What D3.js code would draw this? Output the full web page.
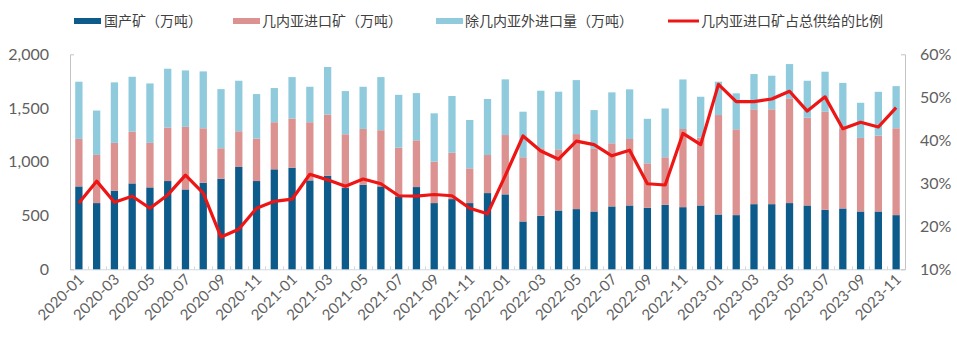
<!DOCTYPE html>
<html><head><meta charset="utf-8">
<script src="https://cdn.jsdelivr.net/npm/d3@7"></script>
<style>body{margin:0;background:#fff} svg{display:block}</style>
</head><body><svg id="c" width="957" height="347"></svg>
<script>
const months = ["2020-01","2020-02","2020-03","2020-04","2020-05","2020-06","2020-07","2020-08","2020-09","2020-10","2020-11","2020-12",
"2021-01","2021-02","2021-03","2021-04","2021-05","2021-06","2021-07","2021-08","2021-09","2021-10","2021-11","2021-12",
"2022-01","2022-02","2022-03","2022-04","2022-05","2022-06","2022-07","2022-08","2022-09","2022-10","2022-11","2022-12",
"2023-01","2023-02","2023-03","2023-04","2023-05","2023-06","2023-07","2023-08","2023-09","2023-10","2023-11"];
const domestic = [771,616,731,799,762,821,743,805,843,952,821,930,
945,827,871,756,787,771,678,765,616,653,616,709,
697,445,498,547,560,538,585,594,572,600,578,594,
510,504,606,606,616,594,554,566,538,538,504];
const guinea = [442,448,445,482,414,498,582,507,283,332,395,438,
458,541,569,500,519,523,454,435,385,431,323,354,
552,597,627,569,698,587,587,618,414,442,727,632,
925,798,882,882,974,816,912,740,684,705,808];
const otherImports = [532,413,563,510,553,547,525,529,550,470,414,318,
385,330,442,402,392,494,491,439,450,528,450,521,
518,424,536,536,502,356,474,462,414,454,461,379,
310,335,328,313,319,344,372,428,327,408,392];
const guineaShare = [25.4,30.5,25.6,27.0,24.2,27.3,31.9,27.7,17.5,19.3,24.2,25.8,
26.3,32.1,30.8,29.3,31.0,29.9,27.1,27.0,27.4,27.1,24.2,22.9,
31.8,41.0,37.5,35.6,39.8,39.0,36.4,37.7,29.9,29.6,41.6,39.0,
53.0,49.0,49.0,49.6,51.4,46.8,50.1,42.7,44.2,43.1,47.6];
const xTickLabels = ["2020-01","2020-03","2020-05","2020-07","2020-09","2020-11","2021-01","2021-03","2021-05","2021-07","2021-09","2021-11",
"2022-01","2022-03","2022-05","2022-07","2022-09","2022-11","2023-01","2023-03","2023-05","2023-07","2023-09","2023-11"];
const leftTicks = [0,500,1000,1500,2000];
const rightTicks = [10,20,30,40,50,60];
const seriesNames = ["国产矿（万吨）","几内亚进口矿（万吨）","除几内亚外进口量（万吨）","几内亚进口矿占总供给的比例"];
const seriesKeys = ["domestic","guinea","otherImports"];
const colors = ["#0c5b8a","#dc9290","#8fcadd","#ee1515"];

const svg = d3.select("#c");
const L = 70, R = 905, T = 54.3, B = 269.3;
const pad = 0.59;
const x = d3.scaleBand().domain(months).range([L, R]).paddingInner(pad).paddingOuter(pad/2);
const yL = d3.scaleLinear().domain([0, 2000]).range([B, T]);
const yR = d3.scaleLinear().domain([10, 60]).range([B, T]);

const rows = months.map((m, i) => ({m, domestic: domestic[i], guinea: guinea[i], otherImports: otherImports[i], share: guineaShare[i]}));
const stacked = d3.stack().keys(seriesKeys)(rows);

const numFont = "Lato, 'Noto Sans', sans-serif";
const cjkFont = "'Noto Sans CJK SC', sans-serif";
const txtColor = "#5f5f5f";

// bottom axis line + boundary ticks
svg.append("line").attr("x1", L).attr("x2", R).attr("y1", B + 0.5).attr("y2", B + 0.5)
  .attr("stroke", "#d3d9e0").attr("stroke-width", 1);
const step = x.step();
svg.append("g").selectAll("line").data(months.slice(1)).join("line")
  .attr("x1", d => Math.round(x(d) - (step - x.bandwidth())/2) + 0.5)
  .attr("x2", d => Math.round(x(d) - (step - x.bandwidth())/2) + 0.5)
  .attr("y1", B - 3).attr("y2", B + 0.5).attr("stroke", "#d3d9e0");

// bars
svg.append("g").selectAll("g").data(stacked).join("g")
  .attr("fill", (d, i) => colors[i])
  .selectAll("rect").data(d => d).join("rect")
  .attr("x", d => x(d.data.m))
  .attr("width", x.bandwidth())
  .attr("y", d => yL(d[1]))
  .attr("height", d => yL(d[0]) - yL(d[1]));

// left axis
const gl = svg.append("g").attr("transform", `translate(${L},0)`)
  .call(d3.axisLeft(yL).tickValues(leftTicks).tickSizeInner(0).tickSizeOuter(-4).tickPadding(21).tickFormat(d3.format(",")));
gl.select(".domain").attr("stroke", "#c4c4c4");
gl.selectAll("text").attr("font-family", numFont).attr("font-size", 16).attr("fill", txtColor);

// right axis
const gr = svg.append("g").attr("transform", `translate(${R},0)`)
  .call(d3.axisRight(yR).tickValues(rightTicks).tickSizeInner(0).tickSizeOuter(-4).tickPadding(15).tickFormat(d => d + "%"));
gr.select(".domain").attr("stroke", "#c4c4c4");
gr.selectAll("text").attr("font-family", numFont).attr("font-size", 16).attr("fill", txtColor);

// x labels
svg.append("g").selectAll("text").data(xTickLabels).join("text")
  .attr("transform", d => `translate(${x(d) + x.bandwidth()/2 + 6},${B + 11}) rotate(-45)`)
  .attr("text-anchor", "end")
  .attr("font-family", numFont).attr("font-size", 15).attr("fill", txtColor)
  .text(d => d);

// line
svg.append("path").datum(rows)
  .attr("fill", "none").attr("stroke", colors[3]).attr("stroke-width", 3.2).attr("stroke-linejoin", "round")
  .attr("d", d3.line().x(d => x(d.m) + x.bandwidth()/2).y(d => yR(d.share)));

// legend
const lg = svg.append("g");
const legItems = [{x: 74, t: 104}, {x: 233, t: 262}, {x: 436, t: 465}, {x: 668, t: 701}];
legItems.forEach((it, i) => {
  if (i < 3) {
    lg.append("rect").attr("x", it.x).attr("y", 18).attr("width", 27).attr("height", 6).attr("fill", colors[i]);
  } else {
    lg.append("line").attr("x1", it.x).attr("x2", it.x + 31).attr("y1", 21).attr("y2", 21)
      .attr("stroke", colors[3]).attr("stroke-width", 3);
  }
  lg.append("text").attr("x", it.t).attr("y", 21).attr("dy", "0.35em")
    .attr("font-family", cjkFont).attr("font-size", 14).attr("fill", "#404040")
    .text(seriesNames[i]);
});
</script>
</body></html>
